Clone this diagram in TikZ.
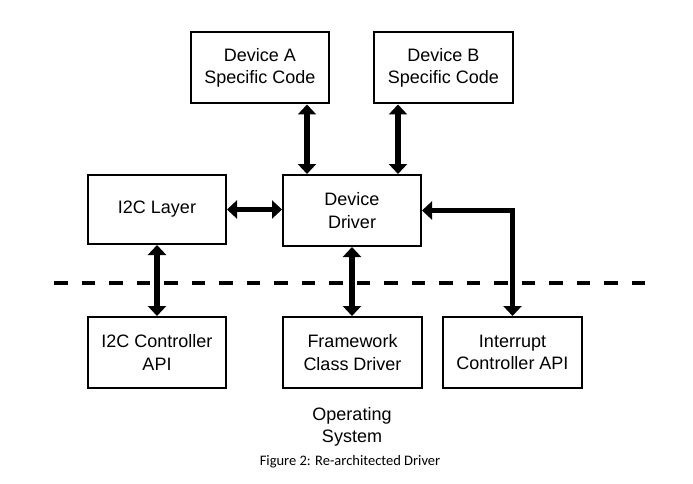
\documentclass[tikz,border=0pt]{standalone}
\usepackage{fontspec}
\setmainfont{Liberation Sans}
\newfontfamily\capfont{Carlito}
\usetikzlibrary{arrows.meta}
\begin{document}
\begin{tikzpicture}[x=1pt,y=-1pt,
  box/.style={draw, line width=2pt, inner sep=0pt, align=center,
    font=\fontsize{18}{22.5}\selectfont},
  arr/.style={line width=5.5pt, {Triangle[width=18pt,length=10pt]}-{Triangle[width=18pt,length=10pt]}},
  sepline/.style={line width=4.5pt, dash pattern=on 13.5pt off 14pt}]
\useasboundingbox (0,0) rectangle (693,484);
\fill[white] (0,0) rectangle (693,484);
\node[box, minimum width=138pt, minimum height=71pt] (DA) at (260,68) {Device A\\Specific Code};
\node[box, minimum width=139pt, minimum height=71pt] (DB) at (443.5,68) {Device B\\Specific Code};
\node[box, minimum width=138pt, minimum height=69pt] (I2CL) at (157,209.5) {I2C Layer};
\node[box, minimum width=138pt, minimum height=71pt] (DD) at (352,210.5) {Device\\Driver};
\node[box, minimum width=138pt, minimum height=71pt] (I2CC) at (157,352.5) {I2C Controller\\API};
\node[box, minimum width=139pt, minimum height=71pt] (FW) at (352.5,352.5) {Framework\\Class Driver};
\node[box, minimum width=139pt, minimum height=71pt] (INT) at (512.5,352.5) {Interrupt\\Controller API};
\coordinate (dl) at (54,283);
\coordinate (dr) at (646,283);
\draw[sepline] (dl) -- (dr);
\draw[arr] ([xshift=47pt]DA.south) -- ([xshift=47pt]DA.south |- DD.north);
\draw[arr] ([xshift=-45.5pt]DB.south) -- ([xshift=-45.5pt]DB.south |- DD.north);
\draw[arr] (I2CL.east) -- (I2CL.east -| DD.west);
\draw[arr] (I2CL.south) -- (I2CC.north);
\draw[arr] (DD.south) -- (DD.south |- FW.north);
\draw[arr] (DD.east) -| (INT.north);
\node[align=center, font=\fontsize{18}{22.5}\selectfont] (OS) at (352,427) {Operating\\System};
\node[font=\capfont\fontsize{14.5}{17}\selectfont] (cap) at (350,462) {Figure 2: Re-architected Driver};
\end{tikzpicture}
\end{document}
